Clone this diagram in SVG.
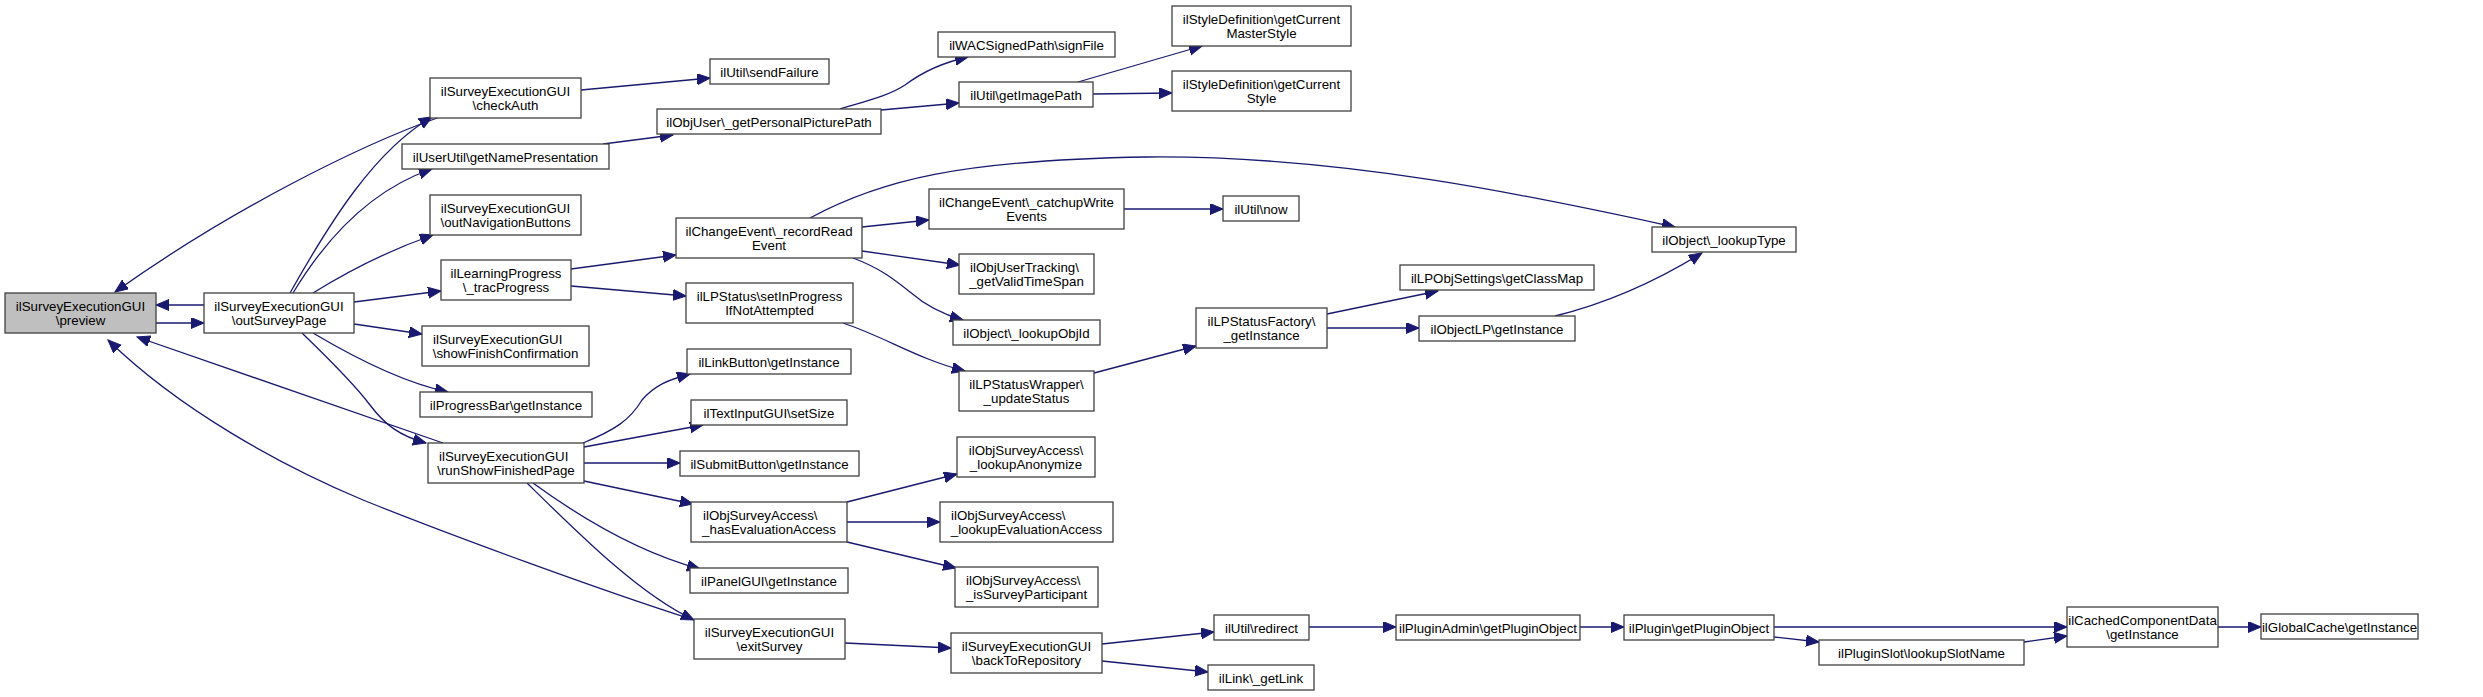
<svg xmlns="http://www.w3.org/2000/svg" width="2483" height="697" viewBox="0 0 2483 697">
<style>
.nd{fill:#ffffff;stroke:#404040;stroke-width:1.3}
.hl{fill:#bfbfbf}
.lb{font-family:"Liberation Sans",Arial,Helvetica,sans-serif;font-size:13.3px;fill:#000000;text-anchor:middle}
.ls{text-anchor:start}
.ed{fill:none;stroke:#191970;stroke-width:1.3;marker-end:url(#ah)}
</style>
<defs>
<marker id="ah" markerUnits="userSpaceOnUse" viewBox="0 0 14 12" markerWidth="14" markerHeight="12" refX="13" refY="5.5" orient="auto">
<path d="M0,0 L13,5.5 L0,11 z" fill="#191970" stroke="#191970" stroke-width="1"/>
</marker>
</defs>
<rect width="2483" height="697" fill="#ffffff"/>
<g id="connectors">
<path class="ed" d="M156,323 L204,323"/>
<path class="ed" d="M204,305 L156,305"/>
<path class="ed" d="M440,117 C360,145 230,210 115,292"/>
<path class="ed" d="M290,293 C330,222 375,150 432,117"/>
<path class="ed" d="M293,293 C325,240 370,190 432,169"/>
<path class="ed" d="M313,293 C350,270 390,250 433,235"/>
<path class="ed" d="M354,302 L441,291"/>
<path class="ed" d="M354,324 L422,334"/>
<path class="ed" d="M313,333 C350,355 400,382 448,392"/>
<path class="ed" d="M302,333 C330,360 355,385 370,405 C385,425 400,436 426,443"/>
<path class="ed" d="M443,443 C350,410 250,376 137,337"/>
<path class="ed" d="M694,620 C600,590 450,535 363,500 C280,465 180,410 108,340"/>
<path class="ed" d="M527,483 C580,535 640,595 694,620"/>
<path class="ed" d="M583,443 C615,430 630,420 642,400 C655,385 668,380 690,374"/>
<path class="ed" d="M584,447 L703,425"/>
<path class="ed" d="M584,463 L680,463"/>
<path class="ed" d="M584,481 L693,504"/>
<path class="ed" d="M533,483 C570,510 630,550 700,569"/>
<path class="ed" d="M581,90 L710,78"/>
<path class="ed" d="M603,144 L673,135"/>
<path class="ed" d="M840,109 C870,100 890,95 905,85 C925,70 945,62 968,57"/>
<path class="ed" d="M881,110 L959,103"/>
<path class="ed" d="M1078,82 C1120,70 1160,58 1202,46"/>
<path class="ed" d="M1093,94 L1172,93"/>
<path class="ed" d="M571,269 L676,255"/>
<path class="ed" d="M571,286 L686,296"/>
<path class="ed" d="M810,218 C880,180 960,160 1147,157 C1350,155 1550,200 1675,227"/>
<path class="ed" d="M862,227 L929,220"/>
<path class="ed" d="M862,251 L960,265"/>
<path class="ed" d="M853,258 C880,268 895,280 910,292 C925,305 945,315 963,320"/>
<path class="ed" d="M1124,209 L1223,209"/>
<path class="ed" d="M843,323 C885,337 920,360 965,371"/>
<path class="ed" d="M1094,373 L1196,346"/>
<path class="ed" d="M1327,314 L1438,291"/>
<path class="ed" d="M1327,328 L1419,328"/>
<path class="ed" d="M1555,316 C1600,305 1650,285 1702,253"/>
<path class="ed" d="M847,502 L957,474"/>
<path class="ed" d="M847,522 L940,522"/>
<path class="ed" d="M847,542 L956,568"/>
<path class="ed" d="M845,643 L951,648"/>
<path class="ed" d="M1102,644 L1214,632"/>
<path class="ed" d="M1102,661 L1208,672"/>
<path class="ed" d="M1309,627 L1396,627"/>
<path class="ed" d="M1580,627 L1624,627"/>
<path class="ed" d="M1774,627 L2067,627"/>
<path class="ed" d="M1774,637 L1819,642"/>
<path class="ed" d="M2024,642 L2067,636"/>
<path class="ed" d="M2218,627 L2261,627"/>
</g>
<g id="n_preview"><rect class="nd hl" x="5" y="293" width="151" height="40"/><text class="lb" x="80.5" y="311">ilSurveyExecutionGUI</text><text class="lb" x="80.5" y="325">\preview</text></g>
<g id="n_outSurveyPage"><rect class="nd" x="204" y="293" width="150" height="40"/><text class="lb" x="279" y="311">ilSurveyExecutionGUI</text><text class="lb" x="279" y="325">\outSurveyPage</text></g>
<g id="n_checkAuth"><rect class="nd" x="430" y="78" width="151" height="40"/><text class="lb" x="505.5" y="96">ilSurveyExecutionGUI</text><text class="lb" x="505.5" y="110">\checkAuth</text></g>
<g id="n_getNamePresentation"><rect class="nd" x="402" y="144" width="207" height="25"/><text class="lb" x="505.5" y="161.5">ilUserUtil\getNamePresentation</text></g>
<g id="n_outNavigationButtons"><rect class="nd" x="430" y="195" width="151" height="40"/><text class="lb" x="505.5" y="213">ilSurveyExecutionGUI</text><text class="lb" x="505.5" y="227">\outNavigationButtons</text></g>
<g id="n_tracProgress"><rect class="nd" x="441" y="260" width="130" height="40"/><text class="lb" x="506" y="278">ilLearningProgress</text><text class="lb" x="506" y="292">\_tracProgress</text></g>
<g id="n_showFinishConfirmation"><rect class="nd" x="422" y="326" width="167" height="40"/><text class="lb ls" x="433" y="344">ilSurveyExecutionGUI</text><text class="lb" x="505.5" y="358">\showFinishConfirmation</text></g>
<g id="n_progressBar"><rect class="nd" x="420" y="392" width="172" height="25"/><text class="lb" x="506" y="409.5">ilProgressBar\getInstance</text></g>
<g id="n_runShowFinishedPage"><rect class="nd" x="428" y="443" width="156" height="40"/><text class="lb ls" x="439" y="461">ilSurveyExecutionGUI</text><text class="lb" x="506" y="475">\runShowFinishedPage</text></g>
<g id="n_sendFailure"><rect class="nd" x="710" y="59" width="119" height="25"/><text class="lb" x="769.5" y="76.5">ilUtil\sendFailure</text></g>
<g id="n_picturePath"><rect class="nd" x="657" y="109" width="224" height="25"/><text class="lb" x="769" y="126.5">ilObjUser\_getPersonalPicturePath</text></g>
<g id="n_recordRead"><rect class="nd" x="676" y="218" width="186" height="40"/><text class="lb" x="769" y="236">ilChangeEvent\_recordRead</text><text class="lb" x="769" y="250">Event</text></g>
<g id="n_setInProgress"><rect class="nd" x="686" y="283" width="167" height="40"/><text class="lb" x="769.5" y="301">ilLPStatus\setInProgress</text><text class="lb" x="769.5" y="315">IfNotAttempted</text></g>
<g id="n_linkButton"><rect class="nd" x="687" y="349" width="164" height="25"/><text class="lb" x="769" y="366.5">ilLinkButton\getInstance</text></g>
<g id="n_textInput"><rect class="nd" x="691" y="400" width="156" height="25"/><text class="lb" x="769" y="417.5">ilTextInputGUI\setSize</text></g>
<g id="n_submitButton"><rect class="nd" x="680" y="451" width="179" height="25"/><text class="lb" x="769.5" y="468.5">ilSubmitButton\getInstance</text></g>
<g id="n_hasEvalAccess"><rect class="nd" x="691" y="502" width="156" height="40"/><text class="lb ls" x="703" y="520">ilObjSurveyAccess\</text><text class="lb" x="769" y="534">_hasEvaluationAccess</text></g>
<g id="n_panelGUI"><rect class="nd" x="690" y="568" width="158" height="25"/><text class="lb" x="769" y="585.5">ilPanelGUI\getInstance</text></g>
<g id="n_exitSurvey"><rect class="nd" x="694" y="619" width="151" height="40"/><text class="lb" x="769.5" y="637">ilSurveyExecutionGUI</text><text class="lb" x="769.5" y="651">\exitSurvey</text></g>
<g id="n_signFile"><rect class="nd" x="938" y="32" width="177" height="25"/><text class="lb" x="1026.5" y="49.5">ilWACSignedPath\signFile</text></g>
<g id="n_getImagePath"><rect class="nd" x="959" y="82" width="134" height="25"/><text class="lb" x="1026" y="99.5">ilUtil\getImagePath</text></g>
<g id="n_masterStyle"><rect class="nd" x="1172" y="6" width="179" height="40"/><text class="lb" x="1261.5" y="24">ilStyleDefinition\getCurrent</text><text class="lb" x="1261.5" y="38">MasterStyle</text></g>
<g id="n_currentStyle"><rect class="nd" x="1172" y="71" width="179" height="40"/><text class="lb" x="1261.5" y="89">ilStyleDefinition\getCurrent</text><text class="lb" x="1261.5" y="103">Style</text></g>
<g id="n_catchupWrite"><rect class="nd" x="929" y="189" width="195" height="40"/><text class="lb" x="1026.5" y="207">ilChangeEvent\_catchupWrite</text><text class="lb" x="1026.5" y="221">Events</text></g>
<g id="n_now"><rect class="nd" x="1223" y="196" width="76" height="25"/><text class="lb" x="1261" y="213.5">ilUtil\now</text></g>
<g id="n_validTimeSpan"><rect class="nd" x="959" y="254" width="135" height="40"/><text class="lb ls" x="970" y="272">ilObjUserTracking\</text><text class="lb" x="1026.5" y="286">_getValidTimeSpan</text></g>
<g id="n_lookupObjId"><rect class="nd" x="953" y="320" width="147" height="25"/><text class="lb" x="1026.5" y="337.5">ilObject\_lookupObjId</text></g>
<g id="n_updateStatus"><rect class="nd" x="959" y="371" width="135" height="40"/><text class="lb" x="1026.5" y="389">ilLPStatusWrapper\</text><text class="lb" x="1026.5" y="403">_updateStatus</text></g>
<g id="n_lpStatusFactory"><rect class="nd" x="1196" y="308" width="131" height="40"/><text class="lb" x="1261.5" y="326">ilLPStatusFactory\</text><text class="lb" x="1261.5" y="340">_getInstance</text></g>
<g id="n_lookupAnonymize"><rect class="nd" x="957" y="437" width="138" height="40"/><text class="lb" x="1026" y="455">ilObjSurveyAccess\</text><text class="lb" x="1026" y="469">_lookupAnonymize</text></g>
<g id="n_lookupEvalAccess"><rect class="nd" x="940" y="502" width="173" height="40"/><text class="lb ls" x="951" y="520">ilObjSurveyAccess\</text><text class="lb" x="1026.5" y="534">_lookupEvaluationAccess</text></g>
<g id="n_isSurveyParticipant"><rect class="nd" x="955" y="567" width="143" height="40"/><text class="lb ls" x="966" y="585">ilObjSurveyAccess\</text><text class="lb" x="1026.5" y="599">_isSurveyParticipant</text></g>
<g id="n_backToRepository"><rect class="nd" x="951" y="633" width="151" height="40"/><text class="lb" x="1026.5" y="651">ilSurveyExecutionGUI</text><text class="lb" x="1026.5" y="665">\backToRepository</text></g>
<g id="n_redirect"><rect class="nd" x="1214" y="615" width="95" height="25"/><text class="lb" x="1261.5" y="632.5">ilUtil\redirect</text></g>
<g id="n_getLink"><rect class="nd" x="1208" y="665" width="106" height="25"/><text class="lb" x="1261" y="682.5">ilLink\_getLink</text></g>
<g id="n_lookupType"><rect class="nd" x="1652" y="227" width="144" height="25"/><text class="lb" x="1724" y="244.5">ilObject\_lookupType</text></g>
<g id="n_lpObjSettings"><rect class="nd" x="1400" y="265" width="194" height="25"/><text class="lb" x="1497" y="282.5">ilLPObjSettings\getClassMap</text></g>
<g id="n_objectLP"><rect class="nd" x="1419" y="316" width="156" height="25"/><text class="lb" x="1497" y="333.5">ilObjectLP\getInstance</text></g>
<g id="n_pluginAdmin"><rect class="nd" x="1396" y="615" width="184" height="25"/><text class="lb" x="1488" y="632.5">ilPluginAdmin\getPluginObject</text></g>
<g id="n_plugin"><rect class="nd" x="1624" y="615" width="150" height="25"/><text class="lb" x="1699" y="632.5">ilPlugin\getPluginObject</text></g>
<g id="n_pluginSlot"><rect class="nd" x="1819" y="640" width="205" height="25"/><text class="lb" x="1921.5" y="657.5">ilPluginSlot\lookupSlotName</text></g>
<g id="n_cachedComponent"><rect class="nd" x="2067" y="607" width="151" height="40"/><text class="lb" x="2142.5" y="625">ilCachedComponentData</text><text class="lb" x="2142.5" y="639">\getInstance</text></g>
<g id="n_globalCache"><rect class="nd" x="2261" y="614" width="157" height="25"/><text class="lb" x="2339.5" y="631.5">ilGlobalCache\getInstance</text></g>
</svg>
